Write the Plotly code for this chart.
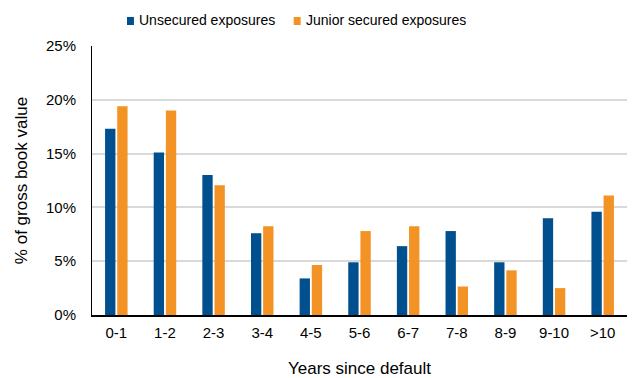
import plotly.graph_objects as go

years = ["0-1", "1-2", "2-3", "3-4", "4-5", "5-6", "6-7", "7-8", "8-9", "9-10", ">10"]
unsecured = [17.3, 15.1, 13.0, 7.6, 3.4, 4.9, 6.4, 7.8, 4.9, 9.0, 9.6]
junior_secured = [19.4, 19.0, 12.05, 8.25, 4.65, 7.8, 8.25, 2.65, 4.15, 2.5, 11.1]
series_names = ["Unsecured exposures", "Junior secured exposures"]
y_ticks = [0, 5, 10, 15, 20, 25]
y_tick_labels = [f"{v}%" for v in y_ticks]

BLUE = "#00508F"
ORANGE = "#F39325"
FONT = "Liberation Sans, Arial, sans-serif"

fig = go.Figure()
fig.add_trace(go.Bar(x=years, y=unsecured, name=series_names[0],
                     marker=dict(color=BLUE, line=dict(width=0))))
fig.add_trace(go.Bar(x=years, y=junior_secured, name=series_names[1],
                     marker=dict(color=ORANGE, line=dict(width=0))))

# Compact legend above the plot: small colour squares with the series names
legend_items = [(series_names[0], BLUE, 0.0654), (series_names[1], ORANGE, 0.377)]
for name, color, x0 in legend_items:
    fig.add_shape(type="rect", xref="paper", yref="paper",
                  x0=x0, x1=x0 + 0.013, y0=1.078, y1=1.108,
                  fillcolor=color, line=dict(width=0))
    fig.add_annotation(text=name, xref="paper", yref="paper",
                       x=x0 + 0.0185, y=1.096, xanchor="left", yanchor="middle",
                       showarrow=False, font=dict(size=14, color="#000000"))

fig.update_layout(
    width=632, height=378,
    margin=dict(l=92, r=5, t=46, b=63),
    paper_bgcolor="white", plot_bgcolor="white",
    font=dict(family=FONT, size=14, color="#000000"),
    barmode="group", bargap=0.5, bargroupgap=0.15,
    showlegend=False,
    xaxis=dict(
        title=dict(text="Years since default", standoff=26),
        showline=True, linecolor="#000000", linewidth=1.5,
        ticks="", tickfont=dict(size=15), ticklabelstandoff=3,
        automargin=False,
    ),
    yaxis=dict(
        title=dict(text="% of gross book value", standoff=14),
        range=[0, 25], tickvals=y_ticks, ticktext=y_tick_labels,
        showline=True, linecolor="#000000", linewidth=1,
        showgrid=True, gridcolor="#D9D9D9", gridwidth=1.5,
        ticks="outside", ticklen=12, tickcolor="white",
        tickfont=dict(size=15), zeroline=False, automargin=False,
    ),
)

fig.write_html("out.html")
